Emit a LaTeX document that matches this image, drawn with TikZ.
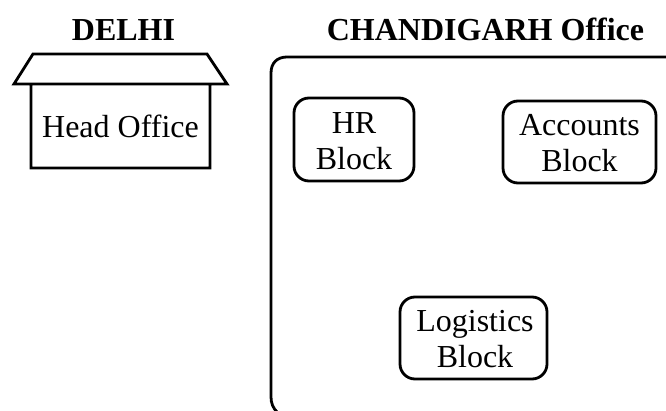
\documentclass[tikz,border=0pt]{standalone}
\usepackage{fontspec}
\setmainfont{Liberation Serif}
\newcommand{\toppad}{\rule{0pt}{24pt}}
\begin{document}
\begin{tikzpicture}[x=1pt,y=-1pt,
  outline/.style={draw=black,line width=2.8pt},
  blockbox/.style={outline,rounded corners=15pt,inner sep=0pt,outer sep=0pt,align=center,font=\fontsize{32}{36}\selectfont,anchor=north west},
  heading/.style={font=\bfseries\fontsize{32}{36}\selectfont,anchor=base,inner sep=0pt}]
\useasboundingbox (0,0) rectangle (666,411);
\node[heading] (delhi) at (123.5,41) {DELHI};
\node[heading] (chd) at (485.5,41) {CHANDIGARH Office};
\node[inner sep=0pt,outer sep=0pt,minimum width=179pt,minimum height=84pt,font=\fontsize{32}{36}\selectfont,anchor=north west] (head) at (31,84) {Head Office};
\coordinate (eaveL) at (14,84);
\coordinate (ridgeL) at (33,54);
\coordinate (ridgeR) at (207,54);
\coordinate (eaveR) at (227,84);
\draw[outline,line join=miter] (eaveL) -- (ridgeL) -- (ridgeR) -- (eaveR) -- cycle
  (head.north west) -- (head.south west) -- (head.south east) -- (head.north east);
\draw[outline,line join=round] (666,57) -- (287,57) .. controls (277,57) and (271,63) .. (271,73) -- (271,397) .. controls (271,403) and (273,408) .. (277,412);
\node[blockbox,minimum width=120pt,minimum height=83pt] (hr) at (294,98) {\toppad HR\\Block};
\node[blockbox,minimum width=153pt,minimum height=82pt] (acc) at (503,101) {\toppad Accounts\\Block};
\node[blockbox,minimum width=147pt,minimum height=82pt] (log) at (400,297) {\toppad\hspace*{3pt}Logistics\\\hspace*{3pt}Block};
\end{tikzpicture}
\end{document}
